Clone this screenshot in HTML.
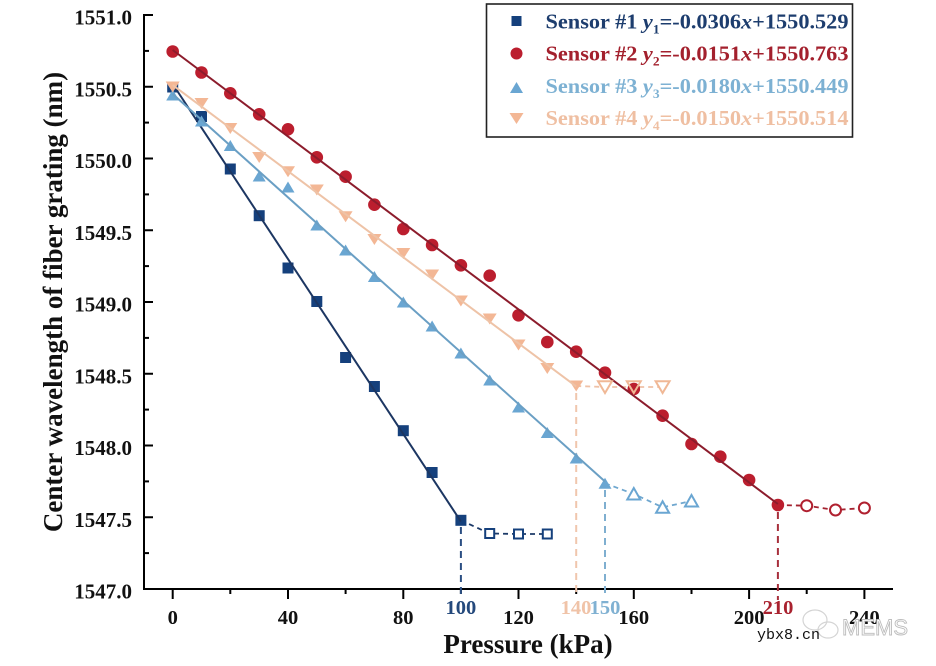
<!DOCTYPE html>
<html>
<head>
<meta charset="utf-8">
<style>
html,body{margin:0;padding:0;background:#fff;}
svg{display:block;}
text{font-family:"Liberation Serif","Times New Roman",serif;font-weight:bold;}
</style>
</head>
<body>
<svg width="936" height="666" viewBox="0 0 936 666" xmlns="http://www.w3.org/2000/svg">
<rect width="936" height="666" fill="#fff"/>

<!-- Axes -->
<g stroke="#000" stroke-width="2" fill="none">
  <line x1="144" y1="14" x2="144" y2="590"/>
  <line x1="143" y1="589" x2="893" y2="589"/>
  <line x1="144" y1="15" x2="153" y2="15"/>
  <line x1="144" y1="86.75" x2="153" y2="86.75"/>
  <line x1="144" y1="158.5" x2="153" y2="158.5"/>
  <line x1="144" y1="230.25" x2="153" y2="230.25"/>
  <line x1="144" y1="302" x2="153" y2="302"/>
  <line x1="144" y1="373.75" x2="153" y2="373.75"/>
  <line x1="144" y1="445.5" x2="153" y2="445.5"/>
  <line x1="144" y1="517.25" x2="153" y2="517.25"/>
  <line x1="144" y1="50.9" x2="149" y2="50.9"/>
  <line x1="144" y1="122.6" x2="149" y2="122.6"/>
  <line x1="144" y1="194.4" x2="149" y2="194.4"/>
  <line x1="144" y1="266.1" x2="149" y2="266.1"/>
  <line x1="144" y1="337.9" x2="149" y2="337.9"/>
  <line x1="144" y1="409.6" x2="149" y2="409.6"/>
  <line x1="144" y1="481.4" x2="149" y2="481.4"/>
  <line x1="144" y1="553.1" x2="149" y2="553.1"/>
  <line x1="172.7" y1="589" x2="172.7" y2="599"/>
  <line x1="288" y1="589" x2="288" y2="599"/>
  <line x1="403.3" y1="589" x2="403.3" y2="599"/>
  <line x1="518.5" y1="589" x2="518.5" y2="599"/>
  <line x1="633.8" y1="589" x2="633.8" y2="599"/>
  <line x1="749.1" y1="589" x2="749.1" y2="599"/>
  <line x1="864.4" y1="589" x2="864.4" y2="599"/>
  <line x1="230.3" y1="589" x2="230.3" y2="594"/>
  <line x1="345.6" y1="589" x2="345.6" y2="594"/>
  <line x1="460.9" y1="589" x2="460.9" y2="594"/>
  <line x1="576.2" y1="589" x2="576.2" y2="594"/>
  <line x1="691.5" y1="589" x2="691.5" y2="594"/>
  <line x1="806.7" y1="589" x2="806.7" y2="594"/>
</g>

<!-- Y tick labels -->
<g font-size="21" text-anchor="end" fill="#111">
  <text x="132" y="24.5">1551.0</text>
  <text x="132" y="96.25">1550.5</text>
  <text x="132" y="168">1550.0</text>
  <text x="132" y="239.75">1549.5</text>
  <text x="132" y="311.5">1549.0</text>
  <text x="132" y="383.25">1548.5</text>
  <text x="132" y="455">1548.0</text>
  <text x="132" y="526.75">1547.5</text>
  <text x="132" y="598.5">1547.0</text>
</g>

<!-- X tick labels -->
<g font-size="20.5" text-anchor="middle" fill="#111">
  <text x="172.7" y="624">0</text>
  <text x="288" y="624">40</text>
  <text x="403.3" y="624">80</text>
  <text x="518.5" y="624">120</text>
  <text x="633.8" y="624">160</text>
  <text x="749.1" y="624">200</text>
  <text x="864.4" y="624">240</text>
  <text x="460.9" y="614" fill="#24497c">100</text>
  <text x="576" y="614" fill="#f0c3a8">140</text>
  <text x="605" y="614" fill="#80b1d2">150</text>
  <text x="778" y="614" fill="#a9222f">210</text>
</g>

<!-- Axis titles -->
<text x="528" y="653" font-size="27" text-anchor="middle" fill="#111">Pressure (kPa)</text>
<text transform="translate(62,302) rotate(-90)" font-size="27" text-anchor="middle" fill="#111">Center wavelength of fiber grating (nm)</text>

<!-- Vertical dashed guide lines -->
<g stroke-width="2" stroke-dasharray="7,5" fill="none">
  <line x1="460.9" y1="527" x2="460.9" y2="598" stroke="#2b4f83"/>
  <line x1="576.2" y1="393" x2="576.2" y2="594" stroke="#f0c6ad"/>
  <line x1="605" y1="490" x2="605" y2="594" stroke="#7fafd0"/>
  <line x1="777.9" y1="512" x2="777.9" y2="600" stroke="#a8303c"/>
</g>

<!-- Dashed connectors to open markers -->
<g stroke-width="1.8" stroke-dasharray="5,4" fill="none">
  <polyline points="460.9,520.3 489.7,533.5 518.5,534 547.3,534" stroke="#1c3a68"/>
  <polyline points="777.9,505 806.7,505.7 835.5,510 864.4,508" stroke="#a4222f"/>
  <polyline points="605,483.3 633.8,494 662.6,507.3 691.5,501" stroke="#6fa7cf"/>
  <polyline points="576.2,386 605,387 633.8,387 662.6,387" stroke="#efc1a6"/>
</g>

<!-- Sensor 1 -->
<g fill="#15407c">
  <rect x="167.2" y="81.5" width="11" height="11"/>
  <rect x="196" y="111" width="11" height="11"/>
  <rect x="224.8" y="163.5" width="11" height="11"/>
  <rect x="253.7" y="210.2" width="11" height="11"/>
  <rect x="282.5" y="262.5" width="11" height="11"/>
  <rect x="311.3" y="296" width="11" height="11"/>
  <rect x="340.1" y="352" width="11" height="11"/>
  <rect x="368.9" y="381" width="11" height="11"/>
  <rect x="397.8" y="425.2" width="11" height="11"/>
  <rect x="426.6" y="467" width="11" height="11"/>
  <rect x="455.4" y="514.8" width="11" height="11"/>
</g>
<g fill="#fff" stroke="#15407c" stroke-width="2">
  <rect x="485.2" y="529" width="9" height="9"/>
  <rect x="514" y="529.5" width="9" height="9"/>
  <rect x="542.8" y="529.5" width="9" height="9"/>
</g>
<line x1="172.7" y1="84" x2="460.9" y2="521.5" stroke="#1c3662" stroke-width="2"/>

<!-- Sensor 2 -->
<g fill="#bb1e2e">
  <circle cx="172.7" cy="51.5" r="6.3"/>
  <circle cx="201.5" cy="72.5" r="6.3"/>
  <circle cx="230.3" cy="93.3" r="6.3"/>
  <circle cx="259.2" cy="114.3" r="6.3"/>
  <circle cx="288" cy="129.3" r="6.3"/>
  <circle cx="316.8" cy="157.3" r="6.3"/>
  <circle cx="345.6" cy="176.7" r="6.3"/>
  <circle cx="374.4" cy="204.7" r="6.3"/>
  <circle cx="403.3" cy="229" r="6.3"/>
  <circle cx="432.1" cy="245" r="6.3"/>
  <circle cx="460.9" cy="265.3" r="6.3"/>
  <circle cx="489.7" cy="275.7" r="6.3"/>
  <circle cx="518.5" cy="315.3" r="6.3"/>
  <circle cx="547.3" cy="342" r="6.3"/>
  <circle cx="576.2" cy="351.7" r="6.3"/>
  <circle cx="605" cy="372.7" r="6.3"/>
  <circle cx="633.8" cy="389" r="6.3"/>
  <circle cx="662.6" cy="415.7" r="6.3"/>
  <circle cx="691.5" cy="444" r="6.3"/>
  <circle cx="720.3" cy="456.7" r="6.3"/>
  <circle cx="749.1" cy="480" r="6.3"/>
  <circle cx="777.9" cy="505" r="6.3"/>
</g>
<g fill="#fff" stroke="#b0202f" stroke-width="2">
  <circle cx="806.7" cy="505.7" r="5.5"/>
  <circle cx="835.5" cy="510" r="5.5"/>
  <circle cx="864.4" cy="508" r="5.5"/>
</g>
<line x1="172.7" y1="50" x2="777.9" y2="504" stroke="#8c1c2c" stroke-width="2"/>

<!-- Sensor 3 -->
<g fill="#6aa6d2">
  <polygon points="172.7,89.5 166.2,100.5 179.2,100.5"/>
  <polygon points="201.5,115.5 195,126.5 208,126.5"/>
  <polygon points="230.3,140 223.8,151 236.8,151"/>
  <polygon points="259.2,170.5 252.7,181.5 265.7,181.5"/>
  <polygon points="288,181.5 281.5,192.5 294.5,192.5"/>
  <polygon points="316.8,219.5 310.3,230.5 323.3,230.5"/>
  <polygon points="345.6,244.5 339.1,255.5 352.1,255.5"/>
  <polygon points="374.4,271 367.9,282 380.9,282"/>
  <polygon points="403.3,296.5 396.8,307.5 409.8,307.5"/>
  <polygon points="432.1,320.5 425.6,331.5 438.6,331.5"/>
  <polygon points="460.9,347.5 454.4,358.5 467.4,358.5"/>
  <polygon points="489.7,374.5 483.2,385.5 496.2,385.5"/>
  <polygon points="518.5,401.5 512,412.5 525,412.5"/>
  <polygon points="547.3,427 540.8,438 553.8,438"/>
  <polygon points="576.2,452.5 569.7,463.5 582.7,463.5"/>
  <polygon points="605,477.8 598.5,488.8 611.5,488.8"/>
</g>
<g fill="#fff" stroke="#6aa6d2" stroke-width="2">
  <polygon points="633.8,488 627.3,499.5 640.3,499.5"/>
  <polygon points="662.6,501.3 656.1,512.8 669.1,512.8"/>
  <polygon points="691.5,495 685,506.5 698,506.5"/>
</g>
<line x1="172.7" y1="94" x2="605" y2="481.5" stroke="#6a9fc4" stroke-width="2"/>

<!-- Sensor 4 -->
<g fill="#f3b795">
  <polygon points="165.7,81.5 179.7,81.5 172.7,92.5"/>
  <polygon points="194.5,98 208.5,98 201.5,109"/>
  <polygon points="223.3,123 237.3,123 230.3,134"/>
  <polygon points="252.2,152 266.2,152 259.2,163"/>
  <polygon points="281,166.2 295,166.2 288,177.2"/>
  <polygon points="309.8,184.5 323.8,184.5 316.8,195.5"/>
  <polygon points="338.6,211.2 352.6,211.2 345.6,222.2"/>
  <polygon points="367.4,234 381.4,234 374.4,245"/>
  <polygon points="396.3,248 410.3,248 403.3,259"/>
  <polygon points="425.1,269.5 439.1,269.5 432.1,280.5"/>
  <polygon points="453.9,295.5 467.9,295.5 460.9,306.5"/>
  <polygon points="482.7,313.5 496.7,313.5 489.7,324.5"/>
  <polygon points="511.5,339.5 525.5,339.5 518.5,350.5"/>
  <polygon points="540.3,363 554.3,363 547.3,374"/>
  <polygon points="569.2,380.5 583.2,380.5 576.2,391.5"/>
</g>
<g fill="none" stroke="#f0b896" stroke-width="2">
  <polygon points="598,381.2 612,381.2 605,393" fill="#fff"/>
  <polygon points="626.8,381.2 640.8,381.2 633.8,393"/>
  <polygon points="655.6,381.2 669.6,381.2 662.6,393" fill="#fff"/>
</g>
<line x1="172.7" y1="85.1" x2="576.2" y2="386.4" stroke="#eec3a7" stroke-width="2"/>

<!-- Legend -->
<rect x="486.5" y="4" width="366" height="133" fill="#fff" stroke="#222" stroke-width="1.6"/>
<rect x="511.5" y="16" width="10" height="10" fill="#15407c"/>
<circle cx="516.5" cy="53.5" r="6" fill="#bb1e2e"/>
<polygon points="516.5,82 510,93 523,93" fill="#6aa6d2"/>
<polygon points="509.5,113 523.5,113 516.5,124" fill="#f3b795"/>

<g font-size="21.5">
  <text x="545.5" y="28.5" fill="#1d3d6e" textLength="303" lengthAdjust="spacingAndGlyphs">Sensor #1 <tspan font-style="italic">y</tspan><tspan font-size="13" dy="5">1</tspan><tspan dy="-5">=-0.0306</tspan><tspan font-style="italic">x</tspan>+1550.529</text>
  <text x="545.5" y="60.5" fill="#a3202d" textLength="303" lengthAdjust="spacingAndGlyphs">Sensor #2 <tspan font-style="italic">y</tspan><tspan font-size="13" dy="5">2</tspan><tspan dy="-5">=-0.0151</tspan><tspan font-style="italic">x</tspan>+1550.763</text>
  <text x="545.5" y="93" fill="#7db1d3" textLength="303" lengthAdjust="spacingAndGlyphs">Sensor #3 <tspan font-style="italic">y</tspan><tspan font-size="13" dy="5">3</tspan><tspan dy="-5">=-0.0180</tspan><tspan font-style="italic">x</tspan>+1550.449</text>
  <text x="545.5" y="125" fill="#efbfa2" textLength="303" lengthAdjust="spacingAndGlyphs">Sensor #4 <tspan font-style="italic">y</tspan><tspan font-size="13" dy="5">4</tspan><tspan dy="-5">=-0.0150</tspan><tspan font-style="italic">x</tspan>+1550.514</text>
</g>

<!-- Watermark -->
<g fill="none" stroke="#d4d4d4" stroke-width="1.2">
  <ellipse cx="815" cy="620" rx="12" ry="10"/>
  <ellipse cx="828" cy="630" rx="10" ry="8"/>
</g>
<text x="842" y="635" font-size="22" fill="#fff" stroke="#bdbdbd" stroke-width="0.9" style="font-family:'Liberation Sans',Arial,sans-serif;font-weight:normal">MEMS</text>
<text x="757" y="639" font-size="15" fill="#111" style="font-family:'Liberation Mono','DejaVu Sans Mono',monospace;font-weight:normal">ybx8.cn</text>
</svg>
</body>
</html>
